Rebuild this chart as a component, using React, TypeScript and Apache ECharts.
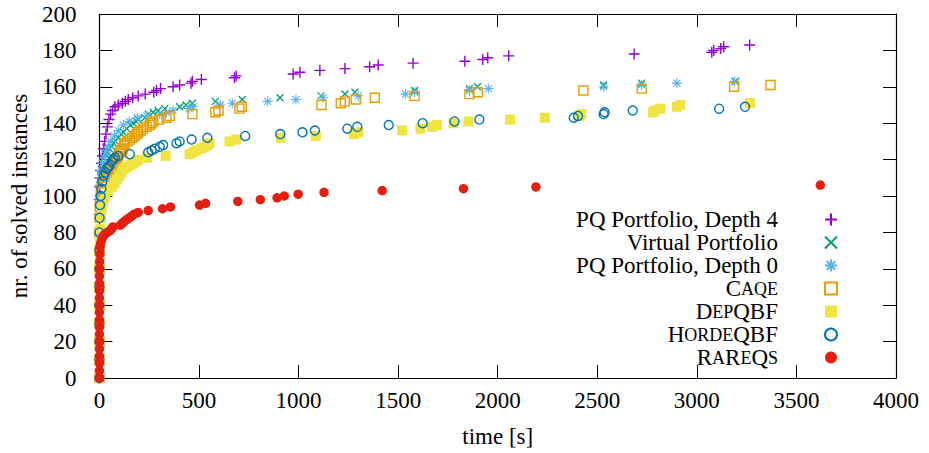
import React, { useEffect, useRef } from "react";
import * as echarts from "echarts";

// [time in s, number of solved instances]
const pqDepth4: number[][] = [
  [0, 0], [0, 10], [0, 20], [0, 30], [0, 40], [0, 50], [0, 60], [0, 70], [0, 80], [0, 90], [0, 98],
  [1, 105], [3, 110], [6, 114], [10, 118], [15, 122], [20, 126], [26, 130], [33, 134], [40, 138],
  [48, 142], [56, 145], [66, 147], [78, 149], [95, 150], [115, 151], [130, 152], [145, 153], [167, 154],
  [195, 155], [230, 156], [273, 157], [287, 158], [307, 159], [370, 160], [403, 161], [460, 162],
  [467, 163], [512, 164], [678, 165], [687, 166], [973, 167], [1007, 168], [1107, 169], [1233, 170],
  [1357, 171], [1400, 172], [1575, 173], [1835, 174], [1925, 175], [1950, 176], [2055, 177],
  [2685, 178], [3075, 179], [3085, 180], [3120, 181], [3135, 182], [3265, 183],
];
const virtualPortfolio: number[][] = [
  [0, 0], [0, 10], [0, 20], [0, 30], [0, 40], [0, 50], [0, 60], [0, 70], [0, 80], [0, 90],
  [1, 100], [3, 106], [6, 111], [10, 115], [15, 118], [22, 121], [30, 123], [40, 124], [50, 126],
  [62, 127], [70, 129], [80, 130], [95, 132], [110, 134], [120, 135], [137, 137], [155, 139],
  [170, 140], [185, 141], [195, 142], [228, 143], [245, 145], [270, 146], [295, 147], [328, 148],
  [403, 149], [435, 150], [467, 151], [582, 152], [717, 153], [907, 154], [1113, 155], [1233, 156],
  [1283, 157], [1583, 158], [1858, 159], [1898, 160], [2532, 161], [2723, 162], [3195, 163],
];
const pqDepth0: number[][] = [
  [0, 0], [0, 10], [0, 20], [0, 30], [0, 40], [0, 50], [0, 60], [0, 70], [0, 80], [0, 90],
  [1, 100], [3, 106], [6, 110], [10, 114], [16, 118], [24, 121], [33, 124], [45, 127], [58, 130],
  [75, 133], [95, 136], [120, 139], [150, 141], [190, 143], [240, 144], [303, 145], [337, 146],
  [370, 147], [450, 148], [470, 149], [607, 150], [667, 151], [845, 152], [987, 153], [1123, 154],
  [1300, 155], [1537, 156], [1583, 157], [1858, 158], [1953, 159], [2532, 160], [2723, 161],
  [2900, 162], [3190, 163],
];
const caqe: number[][] = [
  [0, 0], [0, 10], [0, 20], [0, 30], [0, 40], [0, 50], [0, 60], [0, 70], [0, 80], [1, 88], [2, 94],
  [4, 98], [7, 102], [12, 105], [20, 108], [28, 110], [37, 112], [45, 114], [53, 115], [62, 116],
  [70, 118], [80, 120], [87, 121], [95, 122], [103, 124], [110, 125], [117, 126], [123, 128],
  [128, 129], [140, 130], [153, 131], [165, 132], [178, 133], [188, 134], [195, 135], [208, 136],
  [220, 137], [237, 138], [253, 139], [262, 140], [270, 141], [300, 142], [337, 143], [353, 144],
  [467, 145], [582, 146], [598, 147], [703, 148], [715, 149], [1115, 150], [1212, 151], [1232, 152],
  [1287, 153], [1383, 154], [1583, 155], [1858, 156], [1900, 157], [2430, 158], [2723, 159],
  [3187, 160], [3370, 161],
];
const depQbf: number[][] = [
  [0, 0], [0, 10], [0, 20], [0, 30], [0, 40], [0, 50], [0, 60], [1, 68], [2, 75], [4, 82], [7, 88],
  [12, 93], [20, 97], [30, 100], [45, 103], [62, 105], [75, 107], [87, 109], [100, 111], [112, 113],
  [125, 115], [137, 116], [155, 117], [170, 118], [185, 119], [195, 120], [240, 121], [333, 122],
  [453, 123], [470, 124], [487, 125], [510, 126], [528, 127], [540, 128], [553, 129], [653, 130],
  [687, 131], [912, 132], [1087, 133], [1278, 134], [1300, 135], [1520, 136], [1612, 137],
  [1670, 138], [1695, 139], [1778, 140], [1853, 141], [2062, 142], [2237, 143], [2410, 144],
  [2420, 145], [2780, 146], [2790, 147], [2817, 148], [2900, 149], [2917, 150], [3267, 151],
];
const hordeQbf: number[][] = [
  [0, 0], [0, 10], [0, 20], [0, 30], [0, 40], [0, 50], [0, 60], [0, 70], [0, 80], [1, 88], [3, 95],
  [6, 100], [10, 104], [15, 108], [22, 111], [30, 113], [38, 115], [45, 116], [53, 117], [62, 119],
  [70, 120], [78, 121], [95, 122], [153, 123], [245, 124], [262, 125], [278, 126], [303, 127],
  [320, 128], [387, 129], [403, 130], [463, 131], [542, 132], [732, 133], [908, 134], [1020, 135],
  [1082, 136], [1245, 137], [1295, 138], [1453, 139], [1623, 140], [1783, 141], [1908, 142],
  [2382, 143], [2403, 144], [2532, 145], [2537, 146], [2678, 147], [3112, 148], [3242, 149],
];
const rareqs: number[][] = [
  [0, 0], [0, 4], [0, 8], [0, 12], [0, 16], [0, 20], [0, 24], [0, 28], [0, 32], [0, 36], [0, 40],
  [0, 44], [0, 48], [0, 52], [0, 56], [0, 60], [1, 64], [2, 68], [3, 72], [6, 74], [12, 76], [20, 78],
  [28, 79], [40, 80], [53, 81], [62, 82], [68, 83], [105, 84], [115, 85], [125, 86], [137, 87],
  [150, 88], [162, 89], [175, 90], [195, 91], [245, 92], [317, 93], [357, 94], [503, 95], [533, 96],
  [695, 97], [808, 98], [892, 99], [928, 100], [998, 101], [1128, 102], [1420, 103], [1828, 104],
  [2192, 105], [3620, 106],
];

const seriesNames = [
  "PQ Portfolio, Depth 4",
  "Virtual Portfolio",
  "PQ Portfolio, Depth 0",
  "Caqe",
  "DepQBF",
  "HordeQBF",
  "RaReQs",
];
const seriesData = [pqDepth4, virtualPortfolio, pqDepth0, caqe, depQbf, hordeQbf, rareqs];
const seriesColors = ["#9400d3", "#009e73", "#56b4e9", "#e69f00", "#f0e442", "#0072b2", "#e51e10"];

const xTicks = { min: 0, max: 4000, step: 500 };
const yTicks = { min: 0, max: 200, step: 20 };

const FONT = "serif";

const legendRich: Record<string, string> = {
  Caqe: "{n|C}{s|AQE}",
  DepQBF: "{n|D}{s|EP}{n|QBF}",
  HordeQBF: "{n|H}{s|ORDE}{n|QBF}",
  RaReQs: "{n|R}{s|A}{n|R}{s|E}{n|Q}{s|S}",
};

export default function App() {
  const ref = useRef<HTMLDivElement>(null);
  useEffect(() => {
    if (!ref.current) return;
    const chart = echarts.init(ref.current, undefined, { renderer: "svg" });
    const symbols: any[] = [
      { symbol: "path://M0,5L10,5M5,0L5,10", size: 11, stroke: true, bw: 1.4 },
      { symbol: "path://M0,0L10,10M10,0L0,10", size: 7, stroke: true, bw: 1.3 },
      { symbol: "path://M0,5L10,5M5,0L5,10M1.5,1.5L8.5,8.5M8.5,1.5L1.5,8.5", size: 10, stroke: true, bw: 1.1 },
      { symbol: "rect", size: 9, stroke: true, bw: 1.4 },
      { symbol: "rect", size: 10, stroke: false, bw: 0 },
      { symbol: "circle", size: 9, stroke: true, bw: 1.4 },
      { symbol: "circle", size: 9.5, stroke: false, bw: 0 },
    ];
    const series = seriesNames.map((name, i) => {
      const s = symbols[i];
      return {
        name,
        type: "scatter",
        data: seriesData[i],
        symbol: s.symbol,
        symbolSize: s.size,
        itemStyle: s.stroke
          ? { color: "rgba(0,0,0,0)", borderColor: seriesColors[i], borderWidth: s.bw, opacity: 1 }
          : { color: seriesColors[i], borderWidth: 0, opacity: 1 },
        z: 2 + i,
      };
    });
    const mkLine = () => ({ show: true, onZero: false, lineStyle: { color: "#000", width: 1.2 } });
    const mkTick = () => ({ show: true, inside: true, length: 13, lineStyle: { color: "#000", width: 1 } });
    chart.setOption({
      animation: false,
      backgroundColor: "#fff",
      textStyle: { fontFamily: FONT },
      grid: { left: 96, right: 33, top: 14, bottom: 74 },
      xAxis: [
        {
          type: "value",
          min: xTicks.min,
          max: xTicks.max,
          interval: xTicks.step,
          position: "bottom",
          axisLine: mkLine(),
          axisTick: mkTick(),
          splitLine: { show: false },
          axisLabel: { fontFamily: FONT, fontSize: 23, color: "#000", margin: 11, formatter: (v: number) => String(v) },
          name: "time [s]",
          nameLocation: "middle",
          nameGap: 47,
          nameTextStyle: { fontFamily: FONT, fontSize: 23, color: "#000" },
        },
        {
          type: "value",
          min: xTicks.min,
          max: xTicks.max,
          interval: xTicks.step,
          position: "top",
          axisLine: mkLine(),
          axisTick: mkTick(),
          splitLine: { show: false },
          axisLabel: { show: false },
        },
      ],
      yAxis: [
        {
          type: "value",
          min: yTicks.min,
          max: yTicks.max,
          interval: yTicks.step,
          position: "left",
          axisLine: mkLine(),
          axisTick: mkTick(),
          splitLine: { show: false },
          axisLabel: { fontFamily: FONT, fontSize: 23, color: "#000", margin: 23, formatter: (v: number) => String(v) },
          name: "nr. of solved instances",
          nameLocation: "middle",
          nameRotate: 90,
          nameGap: 63,
          nameTextStyle: { fontFamily: FONT, fontSize: 23, color: "#000" },
        },
        {
          type: "value",
          min: yTicks.min,
          max: yTicks.max,
          interval: yTicks.step,
          position: "right",
          axisLine: mkLine(),
          axisTick: mkTick(),
          splitLine: { show: false },
          axisLabel: { show: false },
        },
      ],
      legend: {
        orient: "vertical",
        align: "right",
        right: 86,
        top: 203,
        itemGap: 0,
        itemWidth: 12,
        itemHeight: 12,
        selectedMode: false,
        data: seriesNames,
        formatter: (name: string) => (legendRich[name] || "{n|" + name + "}") + "{g|}",
        textStyle: {
          fontFamily: FONT,
          rich: {
            n: { fontFamily: FONT, fontSize: 23, lineHeight: 23, color: "#000" },
            s: { fontFamily: FONT, fontSize: 18, lineHeight: 23, color: "#000" },
            g: { width: 42, lineHeight: 23 },
          },
        },
      },
      series,
    });
    return () => chart.dispose();
  }, []);
  return (
    <div
      ref={ref}
      style={{ position: "fixed", left: 0, top: 0, width: 929, height: 453 }}
    />
  );
}
